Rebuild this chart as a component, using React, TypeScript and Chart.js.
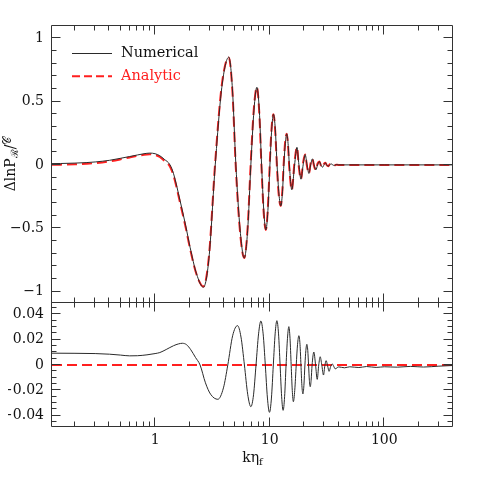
import React, { useEffect, useRef } from "react";
import { Chart, registerables } from "chart.js";
Chart.register(...registerables);

// ---------- data ----------
const X_MIN = 0.126;
const X_MAX = 398;

const kTop = [
  0.126, 0.15, 0.2, 0.25, 0.3, 0.4, 0.5, 0.6, 0.7, 0.8, 0.9, 1.0, 1.1, 1.2, 1.35, 1.45, 1.65, 1.85, 2.02, 2.3,
  2.64, 2.95, 3.35, 3.82, 4.4, 4.73, 5.07, 5.53, 6.0, 6.42, 6.85, 7.29, 7.73, 8.12, 8.5, 8.88, 9.26, 9.65, 10.05,
  10.42, 10.8, 11.2, 11.6, 12.05, 12.5, 12.9, 13.3, 13.7, 14.1, 14.47, 14.85, 15.6, 16.5, 17.3, 18.0, 18.75, 19.6,
  20.4, 21.2, 22.0, 22.8, 23.6, 24.4, 25.3, 26.2, 27.2, 28.0, 28.9, 29.8, 30.7, 31.5, 32.4, 33.4, 34.4, 35.5, 36.6,
  38, 40, 60, 100, 200, 398,
];

const numerical = [
  0.010, 0.011, 0.014, 0.018, 0.023, 0.036, 0.052, 0.066, 0.078, 0.088, 0.093, 0.088, 0.072, 0.045, 0.0, -0.07,
  -0.28, -0.48, -0.65, -0.86, -0.966, -0.74, 0.0, 0.61, 0.85, 0.60, 0.0, -0.52, -0.735, -0.52, 0.0, 0.43, 0.613,
  0.43, 0.0, -0.36, -0.513, -0.36, 0.0, 0.28, 0.40, 0.28, 0.0, -0.23, -0.324, -0.23, 0.0, 0.17, 0.245, 0.17, 0.0,
  -0.197, 0.0, 0.139, 0.0, -0.113, 0.0, 0.081, 0.0, -0.068, 0.0, 0.048, 0.0, -0.040, 0.0, 0.026, 0.0, -0.019, 0.0,
  0.016, 0.0, -0.011, 0.0, 0.008, 0.0, -0.005, 0.002, 0, 0, 0, 0, 0,
];

const analytic = [
  0.001, 0.002, 0.005, 0.009, 0.014, 0.028, 0.044, 0.059, 0.071, 0.080, 0.084, 0.079, 0.062, 0.033, -0.014, -0.086,
  -0.297, -0.495, -0.662, -0.864, -0.959, -0.722, 0.026, 0.63, 0.848, 0.58, -0.030, -0.542, -0.735, -0.497, 0.033,
  0.453, 0.613, 0.406, -0.034, -0.385, -0.513, -0.334, 0.037, 0.305, 0.40, 0.255, -0.035, -0.255, -0.324, -0.205,
  0.035, 0.195, 0.245, 0.15, -0.030, -0.197, 0.028, 0.139, -0.023, -0.113, 0.022, 0.081, -0.016, -0.068, 0.017,
  0.048, -0.010, -0.040, 0.011, 0.026, -0.006, -0.019, 0.008, 0.016, -0.003, -0.011, 0.005, 0.008, -0.001, -0.005,
  0.002, 0, 0, 0, 0, 0,
];

const kDiff = [
  0.126, 0.2, 0.3, 0.4, 0.5, 0.6, 0.7, 0.85, 1.0, 1.1, 1.25, 1.45, 1.6, 1.73, 1.88, 2.05, 2.25, 2.47, 2.75, 3.05,
  3.53, 3.95, 4.31, 4.75, 5.24, 5.62, 6.02, 6.43, 6.85, 7.23, 7.6, 8.0, 8.38, 8.77, 9.16, 9.56, 9.96, 10.36, 10.76,
  11.16, 11.56, 11.95, 12.33, 12.72, 13.1, 13.5, 13.9, 14.3, 14.7, 15.05, 15.4, 15.75, 16.1, 16.55, 17.05, 17.5,
  18.0, 18.4, 18.75, 19.1, 19.5, 19.9, 20.3, 20.7, 21.1, 21.5, 21.85, 22.2, 22.6, 23.0, 23.45, 24.3, 25.15, 26.0,
  26.8, 27.6, 28.5, 29.5, 30.3, 31.1, 32.0, 33.0, 34.1, 35.2, 36.2, 37.3, 40, 45, 50, 60, 70, 85, 100, 130, 170,
  220, 300, 398,
];

const diff = [
  0.0093, 0.0092, 0.0090, 0.0085, 0.0078, 0.0072, 0.0073, 0.0080, 0.0090, 0.0098, 0.0122, 0.0152, 0.0166, 0.0171,
  0.0160, 0.0120, 0.0060, 0.0, -0.0140, -0.0230, -0.0270, -0.0180, 0.0, 0.0230, 0.0310, 0.0220, 0.0, -0.0230,
  -0.0328, -0.0235, 0.0, 0.0245, 0.0346, 0.0245, 0.0, -0.0260, -0.0373, -0.0260, 0.0, 0.0245, 0.0349, 0.0245, 0.0,
  -0.0250, -0.0357, -0.0250, 0.0, 0.0210, 0.0302, 0.0210, 0.0, -0.0200, -0.0289, -0.0200, 0.0, 0.0160, 0.0231,
  0.0160, 0.0, -0.0160, -0.0228, -0.0160, 0.0, 0.0115, 0.0163, 0.0115, 0.0, -0.0120, -0.0171, -0.0120, 0.0, 0.0102,
  0.0, -0.0113, 0.0, 0.0065, 0.0, -0.0079, -0.0005, 0.0034, -0.0005, -0.0050, -0.0010, 0.0008, -0.0010, -0.0030,
  -0.0015, -0.0022, -0.0014, -0.0020, -0.0012, -0.0019, -0.0014, -0.0017, -0.0011, -0.0016, -0.0009, -0.0004,
];

const kZero = [0.126, 398];
const zeroLine = [0, 0];

const xTickValues = [1, 10, 100];
const topYTicks = [-1, -0.5, 0, 0.5, 1];
const bottomYTicks = [-0.04, -0.02, 0, 0.02, 0.04];
const seriesNames = ["Numerical", "Analytic"];

// ---------- styling ----------
const FONT = '"DejaVu Serif", "Liberation Serif", serif';
const AXIS = "#333";
const TEXT = "#111";
const RED = "#ff1f1f";
const BLACK_LINE = "#2a2a2a";

const fmt = (v: number) => (v === 0 ? "0" : (v < 0 ? "\u2212" : "") + String(Math.abs(v)));

type Part = { text: string; size: number; dy: number };

function drawParts(ctx: CanvasRenderingContext2D, cx: number, cy: number, parts: Part[], rotate: boolean, color: string) {
  ctx.save();
  ctx.translate(cx, cy);
  if (rotate) ctx.rotate(-Math.PI / 2);
  ctx.fillStyle = color;
  ctx.textBaseline = "alphabetic";
  ctx.textAlign = "left";
  let total = 0;
  const widths = parts.map((p) => {
    ctx.font = `${p.size}px ${FONT}`;
    const w = ctx.measureText(p.text).width;
    total += w;
    return w;
  });
  let x = -total / 2;
  parts.forEach((p, i) => {
    ctx.font = `${p.size}px ${FONT}`;
    ctx.fillText(p.text, x, p.dy);
    x += widths[i];
  });
  ctx.restore();
}

function makeDeco(cfg: {
  majorStep: number;
  minorStep: number;
  yTitle: Part[];
  yTitleX: number;
  yTitleY: number;
  xTitle?: Part[];
  xTitleY?: number;
  legend?: boolean;
}) {
  return {
    id: "deco",
    afterDraw(chart: any) {
      const ctx: CanvasRenderingContext2D = chart.ctx;
      const a = chart.chartArea;
      const xs = chart.scales.x;
      const ys = chart.scales.y;
      ctx.save();
      ctx.setLineDash([]);
      ctx.globalAlpha = 1;
      ctx.strokeStyle = AXIS;
      ctx.lineWidth = 1;
      const L = Math.round(a.left) - 0.5;
      const R = Math.round(a.right) - 0.5;
      const T = Math.round(a.top) - 0.5;
      const B = Math.round(a.bottom) - 0.5;

      const seg = (x1: number, y1: number, x2: number, y2: number) => {
        ctx.beginPath();
        ctx.moveTo(x1, y1);
        ctx.lineTo(x2, y2);
        ctx.stroke();
      };

      seg(L, T, R, T);
      seg(R, T, R, B);
      seg(R, B, L, B);
      seg(L, B, L, T);

      for (let e = -1; e <= 2; e++) {
        for (let m = 1; m <= 9; m++) {
          const v = m * Math.pow(10, e);
          if (v < X_MIN || v > X_MAX) continue;
          const px = Math.round(xs.getPixelForValue(v)) - 0.5;
          const len = m === 1 ? 9 : 5;
          seg(px, T, px, T + len);
          seg(px, B, px, B - len);
        }
      }
      const n0 = Math.ceil(ys.min / cfg.minorStep - 1e-6);
      const n1 = Math.floor(ys.max / cfg.minorStep + 1e-6);
      for (let n = n0; n <= n1; n++) {
        const v = n * cfg.minorStep;
        const r = v / cfg.majorStep;
        const major = Math.abs(r - Math.round(r)) < 1e-6;
        const py = Math.round(ys.getPixelForValue(v)) - 0.5;
        const len = major ? 9 : 5;
        seg(L, py, L + len, py);
        seg(R, py, R - len, py);
      }

      drawParts(ctx, cfg.yTitleX, cfg.yTitleY, cfg.yTitle, true, TEXT);
      if (cfg.xTitle) drawParts(ctx, (a.left + a.right) / 2, cfg.xTitleY || 0, cfg.xTitle, false, TEXT);

      if (cfg.legend) {
        chart.data.datasets.forEach((ds: any, i: number) => {
          const y = 53.5 + i * 22.7;
          ctx.beginPath();
          ctx.strokeStyle = ds.borderColor;
          ctx.lineWidth = ds.borderWidth;
          ctx.setLineDash(ds.borderDash ? [8, 4] : []);
          ctx.moveTo(72, y);
          ctx.lineTo(112, y);
          ctx.stroke();
          ctx.setLineDash([]);
          ctx.font = `14.5px ${FONT}`;
          ctx.fillStyle = i === 0 ? TEXT : RED;
          ctx.textBaseline = "middle";
          ctx.textAlign = "left";
          ctx.fillText(ds.label, 121, y);
        });
      }
      ctx.restore();
    },
  };
}

function xScale(show: boolean) {
  return {
    type: "logarithmic" as const,
    min: X_MIN,
    max: X_MAX,
    display: show,
    afterBuildTicks: (s: any) => {
      s.ticks = xTickValues.map((v) => ({ value: v }));
    },
    afterFit: (s: any) => {
      s.height = show ? 51 : 0;
    },
    grid: { display: false, drawTicks: false },
    border: { display: false },
    ticks: {
      font: { family: FONT, size: 14 },
      color: TEXT,
      padding: 5,
      maxRotation: 0,
      autoSkip: false,
      callback: (v: any) => String(v),
    },
  };
}

function yScale(min: number, max: number, ticks: number[]) {
  return {
    type: "linear" as const,
    min,
    max,
    afterBuildTicks: (s: any) => {
      s.ticks = ticks.map((v) => ({ value: v }));
    },
    afterFit: (s: any) => {
      s.width = 44;
    },
    grid: { display: false, drawTicks: false },
    border: { display: false },
    ticks: {
      font: { family: FONT, size: 14 },
      color: TEXT,
      padding: 8,
      autoSkip: false,
      callback: (v: any) => fmt(Number(v)),
    },
  };
}

const lineBase = {
  pointRadius: 0,
  pointHoverRadius: 0,
  fill: false,
  cubicInterpolationMode: "monotone" as const,
};

export default function App() {
  const topRef = useRef<HTMLCanvasElement>(null);
  const botRef = useRef<HTMLCanvasElement>(null);

  useEffect(() => {
    const top = new Chart(topRef.current as HTMLCanvasElement, {
      type: "line",
      data: {
        datasets: [
          {
            ...lineBase,
            label: seriesNames[0],
            data: kTop.map((k, i) => ({ x: k, y: numerical[i] })),
            borderColor: BLACK_LINE,
            borderWidth: 1,
          },
          {
            ...lineBase,
            label: seriesNames[1],
            data: kTop.map((k, i) => ({ x: k, y: analytic[i] })),
            borderColor: RED,
            borderWidth: 2,
            borderDash: [10, 5],
          },
        ],
      },
      options: {
        responsive: false,
        animation: false,
        devicePixelRatio: 1,
        events: [],
        layout: { padding: { top: 26, left: 8, right: 25, bottom: 17 } },
        plugins: { legend: { display: false }, tooltip: { enabled: false } },
        scales: { x: xScale(false) as any, y: yScale(-1.09, 1.096, topYTicks) as any },
      },
      plugins: [
        makeDeco({
          majorStep: 0.5,
          minorStep: 0.1,
          yTitle: [
            { text: "\u0394lnP", size: 14, dy: 0 },
            { text: "\u211B", size: 10, dy: 3 },
            { text: "/", size: 14, dy: 0 },
            { text: "\uD835\uDC9E", size: 11, dy: -4 },
          ],
          yTitleX: 15,
          yTitleY: 164,
          legend: true,
        }) as any,
      ],
    });

    const bot = new Chart(botRef.current as HTMLCanvasElement, {
      type: "line",
      data: {
        datasets: [
          {
            ...lineBase,
            label: "Diff.",
            data: kDiff.map((k, i) => ({ x: k, y: diff[i] })),
            borderColor: BLACK_LINE,
            borderWidth: 1,
          },
          {
            ...lineBase,
            label: "zero",
            data: kZero.map((k, i) => ({ x: k, y: zeroLine[i] })),
            borderColor: RED,
            borderWidth: 2,
            borderDash: [10, 5],
          },
        ],
      },
      options: {
        responsive: false,
        animation: false,
        devicePixelRatio: 1,
        events: [],
        layout: { padding: { top: 20, left: 8, right: 25, bottom: 0 } },
        plugins: { legend: { display: false }, tooltip: { enabled: false } },
        scales: { x: xScale(true) as any, y: yScale(-0.0488, 0.0488, bottomYTicks) as any },
      },
      plugins: [
        makeDeco({
          majorStep: 0.02,
          minorStep: 0.005,
          yTitle: [{ text: "Diff.", size: 14, dy: 0 }],
          yTitleX: 13,
          yTitleY: 283 + 83,
          xTitle: [
            { text: "k\u03B7", size: 14, dy: 0 },
            { text: "f", size: 10, dy: 3 },
          ],
          xTitleY: 462 - 283,
        }) as any,
      ],
    });

    return () => {
      top.destroy();
      bot.destroy();
    };
  }, []);

  return (
    <div style={{ position: "fixed", left: 0, top: 0, width: 478, height: 478, background: "#fff" }}>
      <canvas
        ref={topRef}
        width={478}
        height={320}
        style={{ position: "absolute", left: 0, top: 0, width: 478, height: 320, display: "block" }}
      />
      <canvas
        ref={botRef}
        width={478}
        height={195}
        style={{ position: "absolute", left: 0, top: 283, width: 478, height: 195, display: "block" }}
      />
    </div>
  );
}
